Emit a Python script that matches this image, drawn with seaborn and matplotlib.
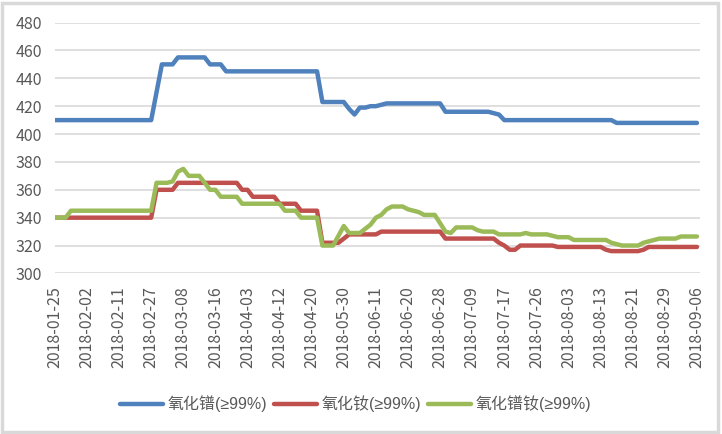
import numpy as np
import pandas as pd
import seaborn as sns
import matplotlib.pyplot as plt
from matplotlib.patches import Rectangle

# tick labels every 6 trading days
tick_labels = ["2018-01-25", "2018-02-02", "2018-02-11", "2018-02-27", "2018-03-08",
               "2018-03-16", "2018-04-03", "2018-04-12", "2018-04-20", "2018-05-30",
               "2018-06-11", "2018-06-20", "2018-06-28", "2018-07-09", "2018-07-17",
               "2018-07-26", "2018-08-03", "2018-08-13", "2018-08-21", "2018-08-29",
               "2018-09-06"]

series_names = ["氧化镨(≥99%)", "氧化钕(≥99%)", "氧化镨钕(≥99%)"]

pr_oxide = [410, 410, 410, 410, 410, 410, 410, 410, 410, 410,
            410, 410, 410, 410, 410, 410, 410, 410, 410, 430,
            450, 450, 450, 455, 455, 455, 455, 455, 455, 450,
            450, 450, 445, 445, 445, 445, 445, 445, 445, 445,
            445, 445, 445, 445, 445, 445, 445, 445, 445, 445,
            423, 423, 423, 423, 423, 418, 414, 419, 419, 420,
            420, 421, 422, 422, 422, 422, 422, 422, 422, 422,
            422, 422, 422, 416, 416, 416, 416, 416, 416, 416,
            416, 416, 415, 414, 410, 410, 410, 410, 410, 410,
            410, 410, 410, 410, 410, 410, 410, 410, 410, 410,
            410, 410, 410, 410, 410, 408, 408, 408, 408, 408,
            408, 408, 408, 408, 408, 408, 408, 408, 408, 408,
            408]

nd_oxide = [340, 340, 340, 340, 340, 340, 340, 340, 340, 340,
            340, 340, 340, 340, 340, 340, 340, 340, 340, 360,
            360, 360, 360, 365, 365, 365, 365, 365, 365, 365,
            365, 365, 365, 365, 365, 360, 360, 355, 355, 355,
            355, 355, 350, 350, 350, 350, 345, 345, 345, 345,
            322, 322, 322, 322, 325, 328, 328, 328, 328, 328,
            328, 330, 330, 330, 330, 330, 330, 330, 330, 330,
            330, 330, 330, 325, 325, 325, 325, 325, 325, 325,
            325, 325, 325, 322, 320, 317, 317, 320, 320, 320,
            320, 320, 320, 320, 319, 319, 319, 319, 319, 319,
            319, 319, 319, 317, 316, 316, 316, 316, 316, 316,
            317, 319, 319, 319, 319, 319, 319, 319, 319, 319,
            319]

prnd_oxide = [340, 340, 340, 345, 345, 345, 345, 345, 345, 345,
              345, 345, 345, 345, 345, 345, 345, 345, 345, 365,
              365, 365, 366, 373, 375, 370, 370, 370, 365, 360,
              360, 355, 355, 355, 355, 350, 350, 350, 350, 350,
              350, 350, 350, 345, 345, 345, 340, 340, 340, 340,
              320, 320, 320, 327, 334, 329, 329, 329, 332, 335,
              340, 342, 346, 348, 348, 348, 346, 345, 344, 342,
              342, 342, 336, 330, 329, 333, 333, 333, 333, 331,
              330, 330, 330, 328, 328, 328, 328, 328, 329, 328,
              328, 328, 328, 327, 326, 326, 326, 324, 324, 324,
              324, 324, 324, 324, 322, 321, 320, 320, 320, 320,
              322, 323, 324, 325, 325, 325, 325, 326.5, 326.5, 326.5,
              326.5]

colors = ["#4F81BD", "#C0504D", "#9BBB59"]

idx = np.arange(len(pr_oxide))
df = pd.concat([
    pd.DataFrame({"i": idx, "price": vals, "series": name})
    for name, vals in zip(series_names, [pr_oxide, nd_oxide, prnd_oxide])
])

sns.set_style("white")
plt.rcParams['font.family'] = ['Noto Sans CJK SC', 'DejaVu Sans']

fig = plt.figure(figsize=(7.22, 4.34), dpi=100)
ax = fig.add_axes([0.076, 0.370, 0.893, 0.578])

sns.lineplot(data=df, x="i", y="price", hue="series", palette=colors,
             linewidth=3.2, ax=ax, legend=True)

ax.set_ylim(300, 480)
ax.set_yticks(range(300, 481, 20))
ax.set_xlim(0, 120.5)
ax.set_xticks(range(0, 121, 6))
ax.set_xticklabels(tick_labels, rotation=90)
ax.tick_params(axis='both', length=0, labelsize=11.5, colors='#595959')
ax.tick_params(axis='y', pad=9)
ax.tick_params(axis='x', pad=9)
ax.grid(axis='y', color='#D9D9D9', linewidth=1.2)
ax.set_axisbelow(True)
for s in ax.spines.values():
    s.set_visible(False)
ax.set_xlabel("")
ax.set_ylabel("")

handles, labels = ax.get_legend_handles_labels()
ax.get_legend().remove()
leg = fig.legend(handles, labels, loc='center left', bbox_to_anchor=(0.146, 0.069),
                 ncol=3, frameon=False, handlelength=2.7,
                 handletextpad=0.3, columnspacing=0.4,
                 prop={'family': ['Liberation Sans', 'Noto Sans CJK SC'], 'size': 11.5})
for t in leg.get_texts():
    t.set_color('#595959')

fig.patches.append(Rectangle((0.003, 0.004), 0.992, 0.99, transform=fig.transFigure,
                             fill=False, edgecolor='#D9D9D9', linewidth=2.5))

fig.savefig("out.png", dpi=100)
